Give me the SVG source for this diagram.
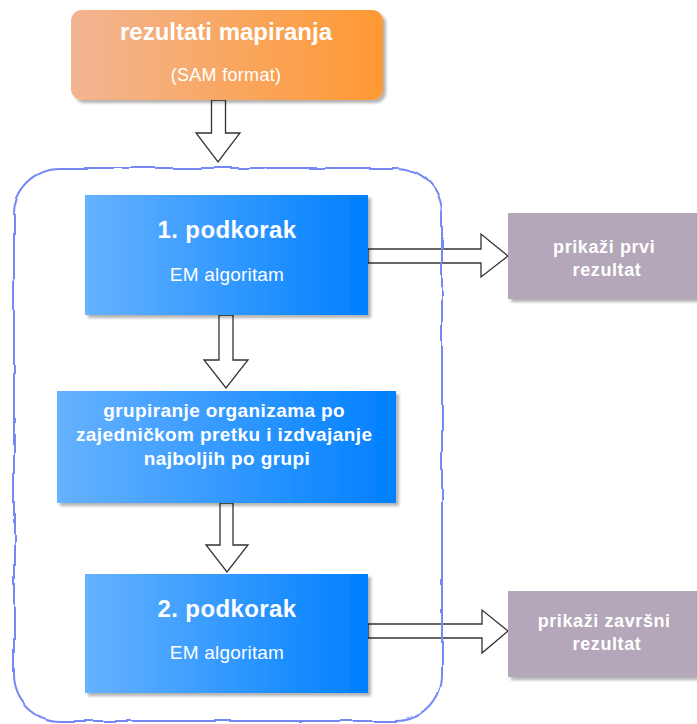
<svg xmlns="http://www.w3.org/2000/svg" width="697" height="724" viewBox="0 0 697 724">
  <defs>
    <linearGradient id="gOrange" x1="0" y1="0" x2="1" y2="0">
      <stop offset="0" stop-color="#f2b592"/>
      <stop offset="1" stop-color="#ff9933"/>
    </linearGradient>
    <linearGradient id="gBlue" x1="0" y1="0" x2="1" y2="0">
      <stop offset="0" stop-color="#66b2ff"/>
      <stop offset="1" stop-color="#0080ff"/>
    </linearGradient>
    <filter id="shadow" x="-10%" y="-10%" width="125%" height="130%">
      <feDropShadow dx="3" dy="3" stdDeviation="1.5" flood-color="#000" flood-opacity="0.3"/>
    </filter>
    <filter id="rough" x="-5%" y="-5%" width="110%" height="110%">
      <feTurbulence type="fractalNoise" baseFrequency="0.025" numOctaves="2" seed="7" result="noise"/>
      <feDisplacementMap in="SourceGraphic" in2="noise" scale="5" xChannelSelector="R" yChannelSelector="G"/>
    </filter>
    <style>
      .t { font-family: "Liberation Sans", Arial, sans-serif; fill: #ffffff; text-anchor: middle; }
      .b { font-weight: bold; }
      .arrow { fill: #ffffff; stroke: #333333; stroke-width: 1.3; stroke-linejoin: miter; }
      .step { fill: url(#gBlue); filter: url(#shadow); }
      .out { fill: #b3a7b9; filter: url(#shadow); }
    </style>
  </defs>

  <!-- block arrows -->
  <g id="connectors">
    <path class="arrow" d="M211.5,100 L225.5,100 L225.5,133 L240,133 L218,162 L196,133 L211.5,133 Z"/>
    <path class="arrow" d="M219,315 L233,315 L233,360 L248,360 L226,388 L204,360 L219,360 Z"/>
    <path class="arrow" d="M220,503 L233,503 L233,545 L248,545 L227,572 L206,545 L220,545 Z"/>
    <path class="arrow" d="M368,249 L481,249 L481,234 L508,256 L481,277 L481,263 L368,263 Z"/>
    <path class="arrow" d="M368,624 L482,624 L482,610 L508,631 L482,653 L482,638 L368,638 Z"/>
  </g>

  <!-- hand-drawn frame around the two EM passes -->
  <g id="frame">
    <rect x="14" y="168" width="428" height="553" rx="46" ry="46" fill="none" stroke="#7488f7" stroke-width="2" filter="url(#rough)"/>
  </g>

  <g id="input">
    <rect x="71" y="10" width="312" height="90" rx="11" ry="11" fill="url(#gOrange)" filter="url(#shadow)"/>
    <text class="t b" x="226" y="40" font-size="24">rezultati mapiranja</text>
    <text class="t" x="226" y="81" font-size="18" letter-spacing="0.3">(SAM format)</text>
  </g>

  <g id="step1">
    <rect class="step" x="85" y="195" width="283" height="120"/>
    <text class="t b" x="227" y="238" font-size="24" letter-spacing="0.4">1. podkorak</text>
    <text class="t" x="227" y="281" font-size="19" letter-spacing="0.2">EM algoritam</text>
  </g>

  <g id="grouping">
    <rect class="step" x="57" y="391" width="339" height="112"/>
    <text class="t b" font-size="19" letter-spacing="0.4">
      <tspan x="227" y="417">grupiranje organizama po</tspan>
      <tspan x="227" y="441">zajedničkom pretku i izdvajanje</tspan>
      <tspan x="227" y="465">najboljih po grupi</tspan>
    </text>
  </g>

  <g id="step2">
    <rect class="step" x="85" y="574" width="283" height="119"/>
    <text class="t b" x="227" y="617" font-size="24" letter-spacing="0.4">2. podkorak</text>
    <text class="t" x="227" y="659" font-size="19" letter-spacing="0.2">EM algoritam</text>
  </g>

  <g id="result1">
    <rect class="out" x="508" y="213" width="200" height="86"/>
    <text class="t b" font-size="18" letter-spacing="0.6">
      <tspan x="607" y="253">prikaži prvi</tspan>
      <tspan x="607" y="276">rezultat</tspan>
    </text>
  </g>

  <g id="result2">
    <rect class="out" x="508" y="591" width="200" height="86"/>
    <text class="t b" font-size="18" letter-spacing="0.6">
      <tspan x="607" y="627">prikaži završni</tspan>
      <tspan x="607" y="650">rezultat</tspan>
    </text>
  </g>
</svg>
